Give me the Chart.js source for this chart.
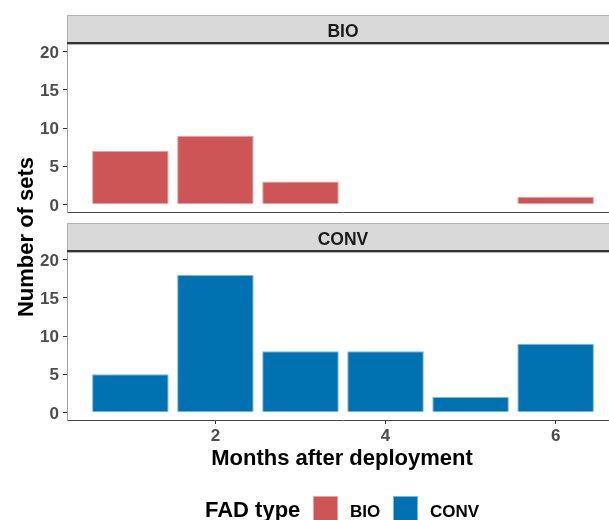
<!DOCTYPE html>
<html>
<head>
<meta charset="utf-8">
<script src="https://cdn.jsdelivr.net/npm/chart.js@4.4.0/dist/chart.umd.min.js"></script>
<style>
  html, body { margin: 0; padding: 0; background: #fff; overflow: hidden; }
  #wrap { position: relative; width: 609px; height: 520px; overflow: hidden; }
  canvas { position: absolute; left: 0; top: 0; }
</style>
</head>
<body>
<div id="wrap">
  <canvas id="bio" width="620" height="520"></canvas>
  <canvas id="conv" width="620" height="520"></canvas>
</div>
<script>
const months = [1, 2, 3, 4, 5, 6];
const bioSets = [7, 9, 3, null, null, 1];
const convSets = [5, 18, 8, 8, 2, 9];
const yTicks = [0, 5, 10, 15, 20];
const xTicks = [2, 4, 6];
const fadTypes = ['BIO', 'CONV'];
const fadColors = ['#cd5555', '#0072b2'];
const fadEdges = ['#e4a3a3', '#80b4d8'];

const FONT = "'Liberation Sans', Arial, Helvetica, sans-serif";
const tickFont = { family: FONT, size: 17, weight: 'bold' };

// grey facet strip above each panel
const stripPlugin = {
  id: 'strip',
  beforeDraw(chart, args, opts) {
    const { ctx, chartArea: a } = chart;
    const h = 29, top = a.top - h, w = a.right - a.left;
    ctx.save();
    ctx.fillStyle = '#d9d9d9';
    ctx.fillRect(a.left, top, w, h);
    ctx.strokeStyle = '#b3b3b3';
    ctx.lineWidth = 1;
    ctx.strokeRect(a.left + 0.5, top + 0.5, w, h);
    ctx.fillStyle = '#333';
    ctx.fillRect(a.left, a.top - 2, w, 2);
    ctx.fillStyle = '#1a1a1a';
    ctx.font = `bold 17.5px ${FONT}`;
    ctx.textAlign = 'center';
    ctx.textBaseline = 'alphabetic';
    ctx.fillText(opts.label, (a.left + a.right) / 2, top + 21.5);
    ctx.restore();
  }
};

// shared axis titles and the legend, drawn once on the lower chart
const decorPlugin = {
  id: 'decor',
  afterDraw(chart, args, opts) {
    if (!opts.on) return;
    const { ctx } = chart;
    ctx.save();
    ctx.fillStyle = '#000';
    ctx.font = `bold 22px ${FONT}`;
    ctx.textBaseline = 'alphabetic';
    ctx.textAlign = 'center';
    ctx.fillText('Months after deployment', 342, 465);

    ctx.save();
    ctx.translate(33, 237);
    ctx.rotate(-Math.PI / 2);
    ctx.fillText('Number of sets', 0, 0);
    ctx.restore();

    ctx.textAlign = 'left';
    ctx.fillText('FAD type', 205, 517);
    const boxX = [313, 393], textX = [350, 430];
    fadTypes.forEach((t, i) => {
      ctx.fillStyle = fadEdges[i];
      ctx.fillRect(boxX[i], 496, 25, 25);
      ctx.fillStyle = fadColors[i];
      ctx.fillRect(boxX[i] + 1, 497, 23, 23);
      ctx.fillStyle = '#000';
      ctx.font = `bold 17px ${FONT}`;
      ctx.fillText(t, textX[i], 517);
    });
    ctx.restore();
  }
};

function yScale() {
  return {
    min: -1, max: 21,
    afterBuildTicks: s => { s.ticks = yTicks.map(v => ({ value: v })); },
    afterFit: s => { s.width = 67; },
    ticks: { font: tickFont, color: '#4d4d4d', padding: 4, labelOffset: 1.5 },
    grid: { drawOnChartArea: false, drawTicks: true, tickLength: 4, color: '#333' },
    border: { display: true, color: '#a0a0a0', width: 1 }
  };
}

function makePanel(id, idx, values, bottomPanel) {
  const data = months.map((m, i) => ({ x: m, y: values[i] }));
  const xScale = {
    type: 'linear', min: 0.255, max: 6.745, offset: false,
    afterBuildTicks: s => { s.ticks = xTicks.map(v => ({ value: v })); },
    border: { display: true, color: '#444', width: 1 }
  };
  if (bottomPanel) {
    Object.assign(xScale, {
      afterFit: s => { s.height = 100; },
      ticks: { font: tickFont, color: '#4d4d4d', padding: 2, maxRotation: 0 },
      grid: { offset: false, drawOnChartArea: false, drawTicks: true, tickLength: 4, color: '#333' }
    });
  } else {
    Object.assign(xScale, {
      afterFit: s => { s.height = 0; },
      ticks: { display: false },
      grid: { display: false, offset: false }
    });
  }
  return new Chart(document.getElementById(id), {
    type: 'bar',
    data: {
      datasets: [{
        label: fadTypes[idx],
        data,
        backgroundColor: fadColors[idx],
        borderColor: fadEdges[idx],
        borderWidth: 1,
        barPercentage: 0.9,
        categoryPercentage: 1.0
      }]
    },
    options: {
      responsive: false,
      animation: false,
      layout: { padding: bottomPanel ? { top: 252, bottom: 0, left: 0, right: 1 } : { top: 44, bottom: 308, left: 0, right: 1 } },
      plugins: {
        legend: { display: false },
        tooltip: { enabled: false },
        strip: { label: fadTypes[idx] },
        decor: { on: bottomPanel }
      },
      scales: { x: xScale, y: yScale() }
    },
    plugins: [stripPlugin, decorPlugin]
  });
}

makePanel('bio', 0, bioSets, false);
makePanel('conv', 1, convSets, true);
</script>
</body>
</html>
